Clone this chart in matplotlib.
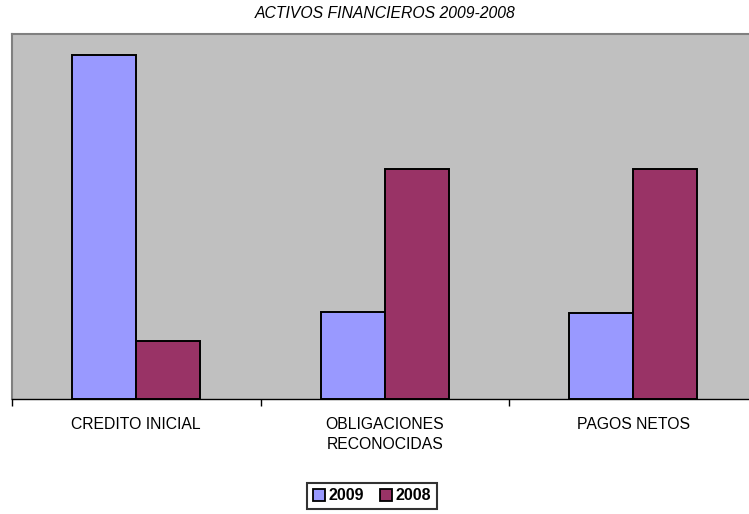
import matplotlib.pyplot as plt
import numpy as np
from matplotlib.patches import Patch

categories = ["CREDITO INICIAL", "OBLIGACIONES\nRECONOCIDAS", "PAGOS NETOS"]
values_2009 = [344, 87, 86]
values_2008 = [58, 230, 230]
series_labels = ["2009", "2008"]
colors = ["#9999FF", "#993366"]

plt.rcParams["font.family"] = ["Liberation Sans", "DejaVu Sans"]

fig = plt.figure(figsize=(7.49, 5.14), dpi=100)
ax = fig.add_axes([12 / 749, 115 / 514, 745.5 / 749, 365 / 514])
ax.set_facecolor("#C0C0C0")

x = np.arange(len(categories))
w = 0.257
ax.bar(x - w / 2, values_2009, w, color=colors[0], edgecolor="black", linewidth=1.4)
ax.bar(x + w / 2, values_2008, w, color=colors[1], edgecolor="black", linewidth=1.4)

ax.set_xlim(-0.5, 2.5)
ax.set_ylim(0, 365)
ax.set_yticks([])
ax.set_xticks([-0.5, 0.5, 1.5, 2.5])
ax.set_xticklabels([])
ax.set_xticks(x, minor=True)
ax.set_xticklabels(categories, minor=True, fontsize=11.3, linespacing=1.4)
ax.tick_params(axis="x", which="major", length=5, width=1, direction="out")
ax.tick_params(axis="x", which="minor", length=0, pad=13)

for s in ["top", "left", "right"]:
    ax.spines[s].set_color("#808080")
    ax.spines[s].set_linewidth(1.5)
ax.spines["bottom"].set_color("black")
ax.spines["bottom"].set_linewidth(1)

fig.text(385 / 749, 1 - 14 / 514, "ACTIVOS FINANCIEROS 2009-2008", ha="center", va="center",
         fontsize=11.3, style="italic")

handles = [Patch(facecolor=c, edgecolor="black", linewidth=1.3) for c in colors]
leg = fig.legend(handles, series_labels, loc="center", bbox_to_anchor=(372 / 749, 1 - 496 / 514),
                 ncol=2, frameon=True, fancybox=False, handlelength=0.75, handleheight=0.75,
                 handletextpad=0.25, columnspacing=1.0, borderpad=0.35,
                 prop={"weight": "bold", "size": 11.5})
leg.get_frame().set_edgecolor("black")
leg.get_frame().set_linewidth(1.5)

fig.savefig("out.png", dpi=100)
